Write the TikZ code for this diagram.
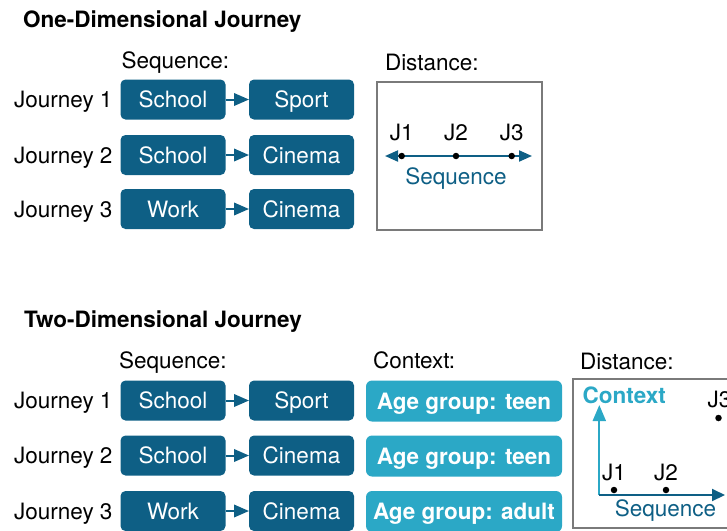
\documentclass[tikz,border=0pt]{standalone}
\usepackage{fontspec}
\setmainfont{TeX Gyre Heros}
\usetikzlibrary{arrows.meta}
\definecolor{seqblue}{HTML}{0E5F85}
\definecolor{ctxblue}{HTML}{2BA8C6}
\definecolor{framegray}{HTML}{7A7A7A}
\begin{document}
\begin{tikzpicture}[x=1pt,y=-1pt,
  every node/.style={font=\fontsize{22.5}{27}\selectfont, inner sep=0pt, outer sep=0pt},
  lbl/.style={anchor=base west},
  jlabel/.style={anchor=east, text height=16pt, text depth=0pt},
  heading/.style={anchor=base west, font=\fontsize{22.5}{27}\selectfont\bfseries},
  seqbox/.style={fill=seqblue, text=white, rounded corners=5pt, minimum width=105pt,
    minimum height=40pt, text height=16pt, text depth=0pt},
  ctxbox/.style={fill=ctxblue, text=white, rounded corners=6pt, minimum width=196pt,
    minimum height=41pt, text height=16pt, text depth=0pt,
    font=\fontsize{22.5}{27}\selectfont\bfseries},
  flow/.style={seqblue, line width=2pt, -{Triangle[length=15pt,width=12.5pt]}},
  frame/.style={draw=framegray, line width=1.2pt},
  jdot/.style={circle, fill=black, minimum size=6.5pt},
  jname/.style={anchor=base},
  axis/.style={line width=2pt},
]
\useasboundingbox (0,0) rectangle (727,530);
\clip (0,0) rectangle (727,530);

% ---------- one-dimensional journey ----------
\node[heading] (t1) at (23,27) {One-Dimensional Journey};
\node[lbl] (seq1) at (121.5,68) {Sequence:};
\node[lbl] (dst1) at (385,70) {Distance:};

\node[jlabel] (a1) at (112.5,99.5) {Journey 1};
\node[jlabel] (a2) at (112.5,155) {Journey 2};
\node[jlabel] (a3) at (112.5,209) {Journey 3};

\node[seqbox] (a11) at (173,99.5) {School};
\node[seqbox] (a12) at (301.5,99.5) {Sport};
\node[seqbox] (a21) at (173,155) {School};
\node[seqbox] (a22) at (301.5,155) {Cinema};
\node[seqbox] (a31) at (173,209) {Work};
\node[seqbox] (a32) at (301.5,209) {Cinema};
\draw[flow] (a11.east) -- (a12.west);
\draw[flow] (a21.east) -- (a22.west);
\draw[flow] (a31.east) -- (a32.west);

\node[frame, minimum width=165pt, minimum height=148pt] (box1) at (459.5,156) {};
\coordinate (l1) at (385,156);
\coordinate (r1) at (532,156);
\draw[seqblue, line width=2pt, {Triangle[length=13pt,width=11pt]}-{Triangle[length=13pt,width=11pt]}] (l1) -- (r1);
\node[jdot] (d1) at (401.7,156) {};
\node[jdot] (d2) at (456,156) {};
\node[jdot] (d3) at (511.7,156) {};
\node[jname] (n1) at (401.7,140) {J1};
\node[jname] (n2) at (456,140) {J2};
\node[jname] (n3) at (511.7,140) {J3};
\node[anchor=base, text=seqblue] (s1) at (456,184) {Sequence};

% ---------- two-dimensional journey ----------
\node[heading] (t2) at (24,327) {Two-Dimensional Journey};
\node[lbl] (seq2) at (119,368) {Sequence:};
\node[lbl] (ctx2) at (373,368) {Context:};
\node[lbl] (dst2) at (580,369) {Distance:};

\node[jlabel] (b1) at (112.5,400.5) {Journey 1};
\node[jlabel] (b2) at (112.5,455.5) {Journey 2};
\node[jlabel] (b3) at (112.5,511) {Journey 3};

\node[seqbox] (b11) at (173,400.5) {School};
\node[seqbox] (b12) at (301.5,400.5) {Sport};
\node[seqbox] (b21) at (173,455.5) {School};
\node[seqbox] (b22) at (301.5,455.5) {Cinema};
\node[seqbox] (b31) at (173,511) {Work};
\node[seqbox] (b32) at (301.5,511) {Cinema};
\draw[flow] (b11.east) -- (b12.west);
\draw[flow] (b21.east) -- (b22.west);
\draw[flow] (b31.east) -- (b32.west);

\node[ctxbox] (c1) at (464,401) {Age group: teen};
\node[ctxbox] (c2) at (464,456) {Age group: teen};
\node[ctxbox] (c3) at (464,511.5) {Age group: adult};

\node[frame, minimum width=190pt, minimum height=149pt] (box2) at (668,453.5) {};
\coordinate (o) at (599.3,495);
\coordinate (ytip) at (599.3,405);
\coordinate (xtip) at (725,495);
\draw[axis, ctxblue, -{Triangle[length=16pt,width=13pt]}] (o) -- (ytip);
\draw[axis, seqblue, -{Triangle[length=13pt,width=12pt]}] (o) -- (xtip);
\node[anchor=base west, text=ctxblue, font=\fontsize{22.5}{27}\selectfont\bfseries] (cl) at (582.7,403) {Context};
\node[anchor=base, text=seqblue] (sl) at (665.5,516.7) {Sequence};
\node[jdot] (e1) at (614,490) {};
\node[jdot] (e2) at (666,490) {};
\node[jdot] (e3) at (718.5,418) {};
\node[jname] (m1) at (614,480) {J1};
\node[jname] (m2) at (666,480) {J2};
\node[jname] (m3) at (719.5,407) {J3};
\end{tikzpicture}
\end{document}
